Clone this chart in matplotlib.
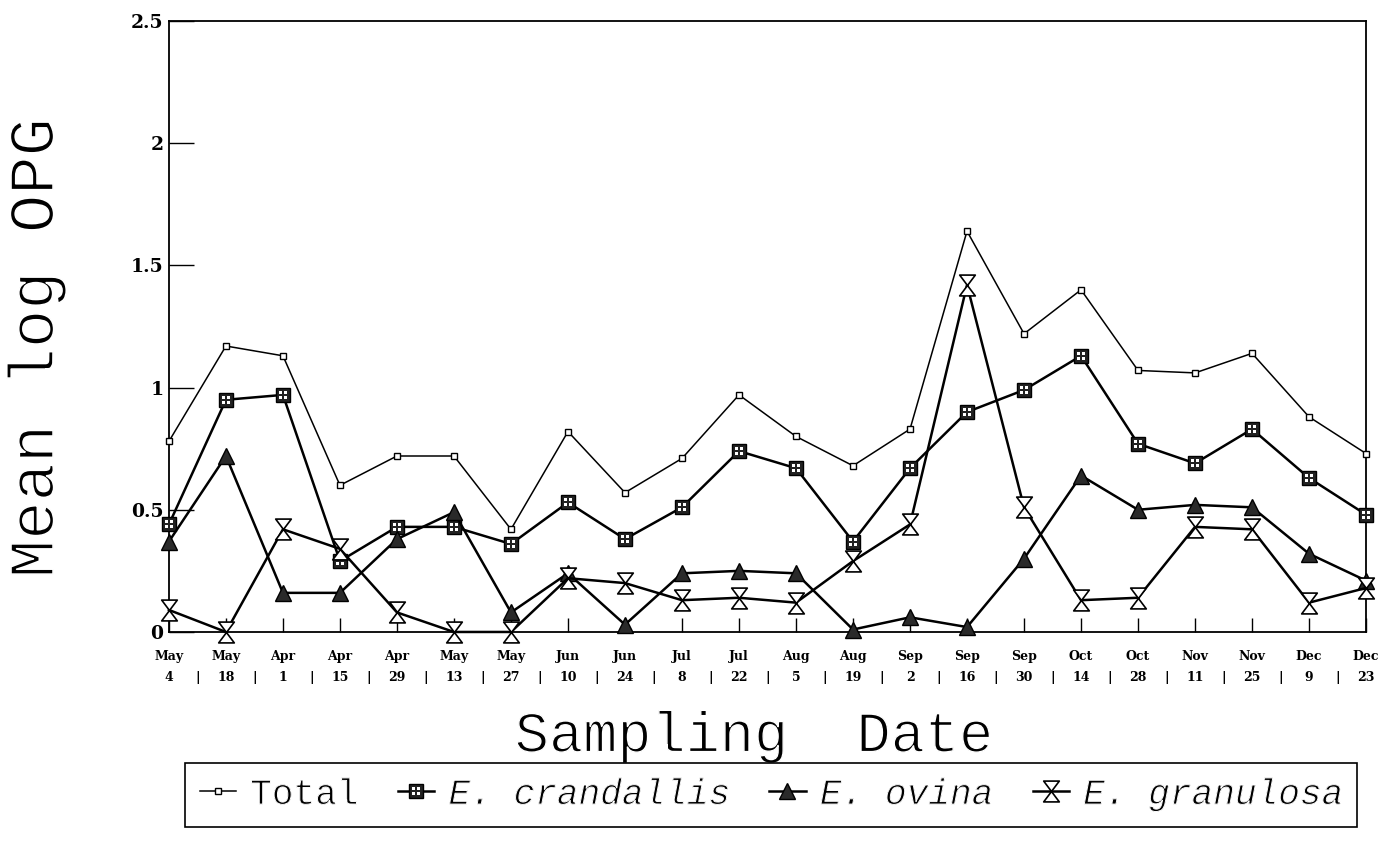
import matplotlib
matplotlib.use('Agg')
import matplotlib.pyplot as plt
import matplotlib.patheffects as pe
from matplotlib.path import Path
from matplotlib.legend_handler import HandlerTuple

# 采样日期（两行标签）
months = ['May', 'May', 'Apr', 'Apr', 'Apr', 'May', 'May', 'Jun', 'Jun', 'Jul', 'Jul',
          'Aug', 'Aug', 'Sep', 'Sep', 'Sep', 'Oct', 'Oct', 'Nov', 'Nov', 'Dec', 'Dec']
days = ['4', '18', '1', '15', '29', '13', '27', '10', '24', '8', '22',
        '5', '19', '2', '16', '30', '14', '28', '11', '25', '9', '23']

total = [0.78, 1.17, 1.13, 0.60, 0.72, 0.72, 0.42, 0.82, 0.57, 0.71, 0.97,
         0.80, 0.68, 0.83, 1.64, 1.22, 1.40, 1.07, 1.06, 1.14, 0.88, 0.73]
crandallis = [0.44, 0.95, 0.97, 0.29, 0.43, 0.43, 0.36, 0.53, 0.38, 0.51, 0.74,
              0.67, 0.37, 0.67, 0.90, 0.99, 1.13, 0.77, 0.69, 0.83, 0.63, 0.48]
ovina = [0.37, 0.72, 0.16, 0.16, 0.38, 0.49, 0.08, 0.24, 0.03, 0.24, 0.25,
         0.24, 0.01, 0.06, 0.02, 0.30, 0.64, 0.50, 0.52, 0.51, 0.32, 0.21]
granulosa = [0.09, 0.00, 0.42, 0.34, 0.08, 0.00, 0.00, 0.22, 0.20, 0.13, 0.14,
             0.12, 0.29, 0.44, 1.42, 0.51, 0.13, 0.14, 0.43, 0.42, 0.12, 0.18]

yticks = [0, 0.5, 1, 1.5, 2, 2.5]
ytick_labels = ['0', '0.5', '1', '1.5', '2', '2.5']

# 自定义标记：沙漏形 与 四个小方块（格子）
hourglass = Path([(-0.75, 1), (0.75, 1), (-0.75, -1), (0.75, -1), (-0.75, 1)],
                 [Path.MOVETO, Path.LINETO, Path.LINETO, Path.LINETO, Path.CLOSEPOLY])
dot_verts, dot_codes = [], []
for cx in (-0.45, 0.45):
    for cy in (-0.45, 0.45):
        s = 0.3
        dot_verts += [(cx - s, cy - s), (cx + s, cy - s), (cx + s, cy + s), (cx - s, cy + s), (cx - s, cy - s)]
        dot_codes += [Path.MOVETO, Path.LINETO, Path.LINETO, Path.LINETO, Path.CLOSEPOLY]
dots = Path(dot_verts, dot_codes)

tick_font = 'DejaVu Serif'
mono = 'Liberation Mono'


def thin(width):
    # 在字形上再描一圈白边，让笔画变细
    return [pe.Normal(), pe.Stroke(linewidth=width, foreground='white')]


fig = plt.figure(figsize=(13.87, 8.59), dpi=100)
ax = fig.add_axes([0.1218, 0.2643, 0.8631, 0.7113])

x = list(range(len(months)))

l_total, = ax.plot(x, total, color='black', linewidth=1.1, marker='s', markersize=4.5,
                   markerfacecolor='white', markeredgecolor='black', markeredgewidth=1.0,
                   clip_on=False, zorder=3)
l_cr, = ax.plot(x, crandallis, color='black', linewidth=1.8, marker='s', markersize=9.5,
                markerfacecolor='#222222', markeredgecolor='black', clip_on=False, zorder=4)
l_cr_dots, = ax.plot(x, crandallis, linestyle='none', marker=dots, markersize=5.5,
                     markerfacecolor='white', markeredgewidth=0, clip_on=False, zorder=4.1)
l_ov, = ax.plot(x, ovina, color='black', linewidth=1.8, marker='^', markersize=12,
                markerfacecolor='#2a2a2a', markeredgecolor='black', clip_on=False, zorder=5)
l_gr, = ax.plot(x, granulosa, color='black', linewidth=1.8, marker=hourglass, markersize=15,
                markerfacecolor='white', markeredgecolor='black', markeredgewidth=1.2,
                clip_on=False, zorder=6)

ax.set_xlim(0, len(months) - 1)
ax.set_ylim(0, 2.5)
ax.set_yticks(yticks)
ax.set_yticklabels(ytick_labels, fontfamily=tick_font, fontweight='bold', fontsize=13.5)
ax.set_xticks(x)
ax.set_xticklabels(months, fontfamily=tick_font, fontweight='bold', fontsize=9)
ax.tick_params(axis='y', direction='in', length=18, width=1, pad=4)
ax.tick_params(axis='x', direction='in', length=10, width=1, pad=13)
for sp in ax.spines.values():
    sp.set_linewidth(1.3)

# 第二行：日期数字与分隔符
tr = ax.get_xaxis_transform()
for i, d in enumerate(days):
    ax.text(i, -0.074, d, transform=tr, ha='center', va='center',
            fontfamily=tick_font, fontweight='bold', fontsize=9)
for i in range(len(days) - 1):
    ax.text(i + 0.5, -0.074, '|', transform=tr, ha='center', va='center',
            fontfamily=tick_font, fontweight='bold', fontsize=9)

fig.text(0.026, 0.595, 'Mean log OPG', rotation=90, ha='center', va='center',
         fontfamily=mono, fontsize=46, path_effects=thin(1.2))
fig.text(0.544, 0.1425, 'Sampling  Date', ha='center', va='center',
         fontfamily=mono, fontsize=41, path_effects=thin(1.0))

leg = fig.legend([l_total, (l_cr, l_cr_dots), l_ov, l_gr],
                 ['Total', 'E. crandallis', 'E. ovina', 'E. granulosa'],
                 handler_map={tuple: HandlerTuple(ndivide=1)},
                 loc='center', bbox_to_anchor=(0.5560, 0.0750), ncol=4,
                 frameon=True, fancybox=False, edgecolor='black', framealpha=1,
                 prop={'family': mono, 'size': 26},
                 handlelength=1.0, handletextpad=0.4, columnspacing=1.1,
                 borderpad=0.4, borderaxespad=0, numpoints=1)
leg.get_frame().set_linewidth(1.2)
for i, t in enumerate(leg.get_texts()):
    if i > 0:
        t.set_fontstyle('italic')
    t.set_path_effects(thin(0.7))

plt.savefig('out.png', dpi=100)
plt.close()
